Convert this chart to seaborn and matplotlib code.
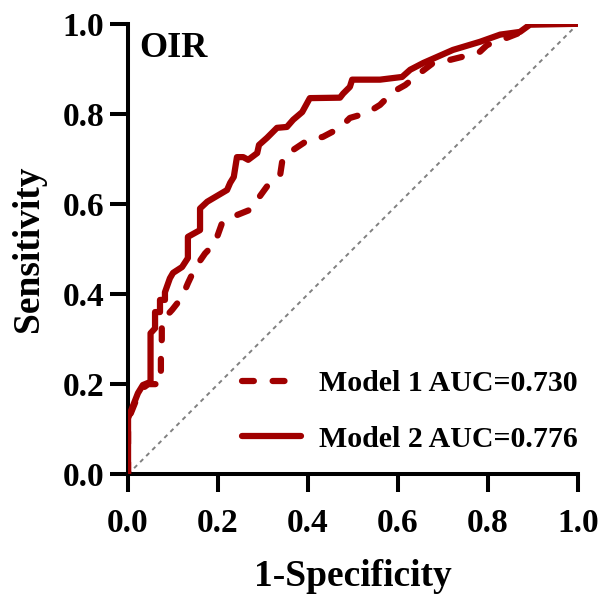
import pandas as pd
import matplotlib.pyplot as plt
import seaborn as sns

# ROC points
fpr_m1 = [0, 0, 0.027, 0.045, 0.073, 0.073, 0.075, 0.075, 0.098, 0.12, 0.133, 0.149, 0.171, 0.193,
          0.209, 0.231, 0.271, 0.287, 0.311, 0.338, 0.344, 0.367, 0.4, 0.433, 0.471, 0.493, 0.531,
          0.56, 0.589, 0.616, 0.649, 0.678, 0.716, 0.744, 0.782, 0.798, 0.842, 0.87, 0.9, 1.0]
tpr_m1 = [0, 0.12, 0.187, 0.2, 0.2, 0.26, 0.3, 0.34, 0.365, 0.393, 0.424, 0.458, 0.49, 0.513,
          0.558, 0.571, 0.587, 0.609, 0.642, 0.664, 0.704, 0.72, 0.742, 0.749, 0.769, 0.791, 0.802,
          0.82, 0.849, 0.864, 0.891, 0.913, 0.92, 0.927, 0.938, 0.953, 0.969, 0.98, 1.0, 1.0]

fpr_m2 = [0, 0, 0.022, 0.033, 0.05, 0.05, 0.06, 0.06, 0.071, 0.071, 0.082, 0.082, 0.093, 0.1,
          0.12, 0.133, 0.133, 0.16, 0.16, 0.176, 0.22, 0.227, 0.235, 0.242, 0.256, 0.267, 0.287,
          0.291, 0.309, 0.331, 0.353, 0.367, 0.387, 0.404, 0.471, 0.478, 0.493, 0.498, 0.56, 0.609,
          0.627, 0.656, 0.722, 0.782, 0.827, 0.871, 0.893, 1.0]
tpr_m2 = [0, 0.124, 0.18, 0.198, 0.205, 0.313, 0.324, 0.36, 0.36, 0.387, 0.387, 0.404, 0.435, 0.447,
          0.46, 0.48, 0.527, 0.542, 0.59, 0.605, 0.631, 0.647, 0.66, 0.704, 0.704, 0.698, 0.713,
          0.731, 0.747, 0.769, 0.771, 0.787, 0.804, 0.835, 0.836, 0.845, 0.86, 0.876, 0.876, 0.882,
          0.898, 0.913, 0.942, 0.96, 0.976, 0.982, 0.998, 1.0]

labels = ["Model 1 AUC=0.730", "Model 2 AUC=0.776"]
ticks = [0.0, 0.2, 0.4, 0.6, 0.8, 1.0]

sns.set_style("ticks")
plt.rcParams['font.family'] = ['Liberation Serif', 'DejaVu Serif']
plt.rcParams['font.weight'] = 'bold'
for k in ['text.color', 'axes.labelcolor', 'xtick.color', 'ytick.color', 'axes.edgecolor']:
    plt.rcParams[k] = 'black'

red = "#A00000"

fig = plt.figure(figsize=(6.04, 5.95), dpi=100)
ax = fig.add_axes([0.212, 0.203, 0.745, 0.757])

# chance line
sns.lineplot(x=[0, 1], y=[0, 1], ax=ax, color="#808080", linewidth=1.4,
             linestyle=(0, (2.2, 2.2)), zorder=1)

df1 = pd.DataFrame({"fpr": fpr_m1, "tpr": tpr_m1})
df2 = pd.DataFrame({"fpr": fpr_m2, "tpr": tpr_m2})
sns.lineplot(data=df1, x="fpr", y="tpr", sort=False, estimator=None, ax=ax, color=red,
             linewidth=4.5, linestyle=(0, (1.9, 3.0)), dash_capstyle="round",
             label=labels[0], zorder=3)
sns.lineplot(data=df2, x="fpr", y="tpr", sort=False, estimator=None, ax=ax, color=red,
             linewidth=4.5, label=labels[1], zorder=4)

ax.set_xlim(0, 1)
ax.set_ylim(0, 1)
ax.set_xticks(ticks)
ax.set_yticks(ticks)
ax.set_xticklabels([f"{t:.1f}" for t in ticks], fontsize=24, fontweight="bold")
ax.set_yticklabels([f"{t:.1f}" for t in ticks], fontsize=24, fontweight="bold")
ax.tick_params(length=13, width=2.9)
ax.tick_params(axis="x", pad=11)
ax.tick_params(axis="y", pad=4)
for s in ["left", "bottom"]:
    ax.spines[s].set_linewidth(2.9)
sns.despine(ax=ax)

ax.set_xlabel("1-Specificity", fontsize=27, fontweight="bold", labelpad=15)
ax.set_ylabel("Sensitivity", fontsize=27, fontweight="bold", labelpad=12)
ax.text(0.025, 0.945, "OIR", transform=ax.transAxes, fontsize=26, fontweight="bold", va="center")

ax.legend(loc="lower right", bbox_to_anchor=(1.06, -0.012), frameon=False,
          handlelength=2.0, handletextpad=0.6, labelspacing=0.95,
          prop={"size": 21.5, "weight": "bold"})

plt.savefig("out.png", dpi=100)
